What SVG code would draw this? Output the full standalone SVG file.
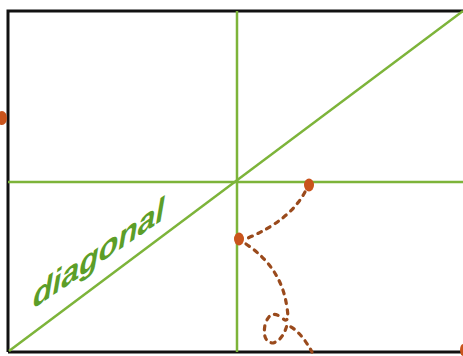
<svg xmlns="http://www.w3.org/2000/svg" width="463" height="356" viewBox="0 0 463 356">
<style>
.guide{stroke:#7db43a;stroke-width:2.5;fill:none}
.dash{stroke:#9a4a1c;stroke-width:3.2;fill:none;stroke-dasharray:4 6;stroke-linecap:round}
.dot{fill:#c9541c}
.lbl{font-family:"Liberation Sans",Arial,sans-serif;font-weight:bold;font-style:italic;font-size:32px;fill:#5c9e28}
</style>
<rect width="463" height="356" fill="#ffffff"/>
<g id="frame">
<path d="M8,352 L8,11 L463,11 M8,352 L463,352" stroke="#111" stroke-width="3" fill="none"/>
</g>
<g id="connectors">
<line class="guide" x1="9" y1="351" x2="463" y2="11"/>
<line class="guide" x1="237" y1="11" x2="237" y2="352"/>
<line class="guide" x1="8" y1="182" x2="463" y2="182"/>
<path class="dash" d="M305,192 Q290,220 248,238"/>
<path class="dash" d="M246,244 Q282,268 287,308 Q290,325 282,318 Q270,308 265,325 Q262,342 273,343 Q283,340 287,325 Q300,330 312,352"/>
</g>
<g id="label">
<text class="lbl" transform="translate(33,309) skewY(-34.5)">diagonal</text>
</g>
<g id="dots">
<ellipse class="dot" cx="309" cy="185" rx="5" ry="6.5"/>
<ellipse class="dot" cx="239" cy="239" rx="5" ry="6.5"/>
<ellipse class="dot" cx="2" cy="118" rx="5" ry="7"/>
<ellipse class="dot" cx="463" cy="350" rx="3" ry="6"/>
</g>
</svg>
